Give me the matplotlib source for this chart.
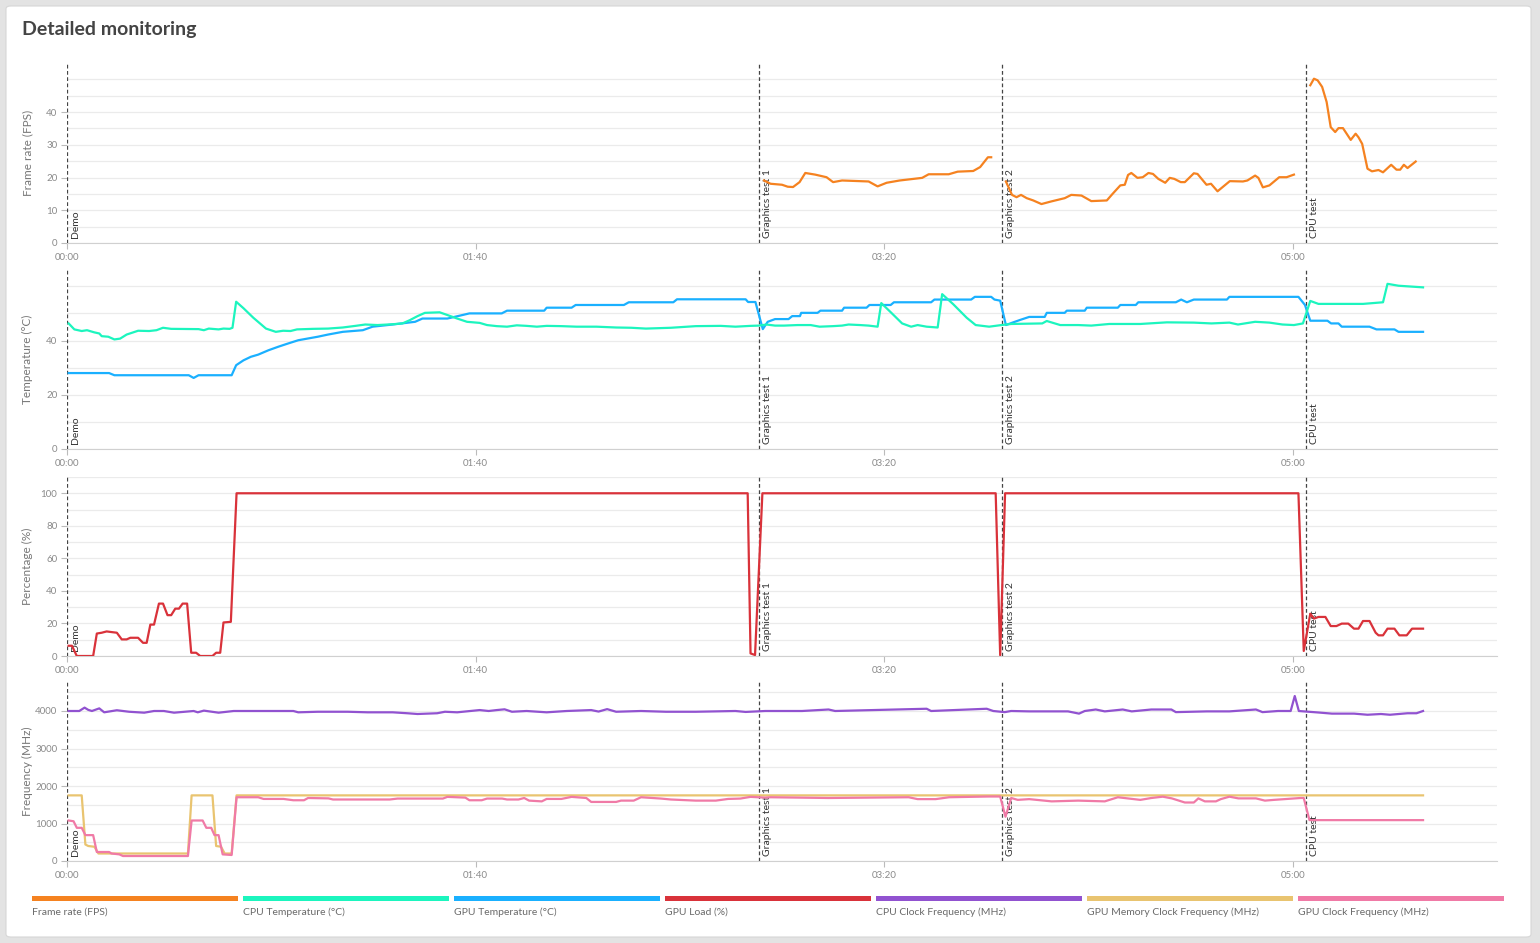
import numpy as np
import matplotlib.pyplot as plt
from matplotlib.patches import FancyBboxPatch, Rectangle

plt.rcParams['font.family'] = ['Lato', 'DejaVu Sans']

# benchmark phases (seconds from start)
event_times = [0, 169.4, 228.9, 303.2]
event_names = ['Demo', 'Graphics test 1', 'Graphics test 2', 'CPU test']

# frame rate, one list of (t, fps) per test run
fps_gt1 = [(170.6, 19.1), (172.2, 18.1), (175.0, 17.8), (176.4, 17.2), (177.7, 17.1), (179.3, 18.6),
           (180.7, 21.4), (183.1, 20.9), (185.9, 20.1), (187.5, 18.6), (189.7, 19.1), (196.2, 18.8),
           (198.4, 17.3), (200.6, 18.4), (203.8, 19.1), (209.3, 19.9), (210.9, 21.0), (215.8, 21.0),
           (218.0, 21.8), (221.8, 22.0), (223.5, 23.2), (225.4, 26.2), (226.2, 26.2)]
fps_gt2 = [(229.8, 18.8), (231.3, 14.7), (232.4, 14.0), (233.5, 14.7), (234.9, 13.7), (236.5, 13.0),
           (238.5, 11.9), (240.9, 12.7), (244.2, 13.7), (245.8, 14.7), (248.3, 14.5), (250.7, 12.8),
           (254.5, 13.0), (255.9, 15.0), (257.8, 17.6), (258.9, 17.8), (259.7, 20.8), (260.5, 21.4),
           (262.0, 19.9), (263.3, 20.1), (264.7, 21.4), (265.8, 21.1), (267.1, 19.6), (268.8, 18.4),
           (269.9, 19.9), (271.0, 19.6), (272.6, 18.6), (273.6, 18.6), (275.8, 21.3), (276.7, 21.1),
           (278.9, 17.8), (280.0, 18.1), (281.6, 15.8), (284.6, 18.9), (287.8, 18.8), (288.9, 19.1),
           (290.8, 20.6), (291.6, 19.9), (292.7, 17.0), (294.3, 17.6), (296.7, 20.1), (298.5, 20.1),
           (300.3, 20.9)]
fps_cpu = [(304.3, 48.2), (305.2, 50.2), (306.1, 49.7), (307.2, 47.7), (308.3, 43.1), (309.3, 35.4),
           (310.4, 33.9), (311.2, 35.1), (312.3, 35.1), (314.2, 31.5), (315.4, 33.4), (316.1, 32.3),
           (317.0, 30.3), (318.3, 22.7), (319.4, 21.9), (321.0, 22.3), (322.1, 21.6), (324.1, 23.9),
           (325.4, 22.4), (326.3, 22.4), (327.2, 23.9), (328.1, 22.9), (330.1, 24.9)]

cpu_temp = [(0.4, 46.3), (1.8, 44.1), (3.6, 43.5), (4.9, 43.8), (6.7, 43.0), (7.9, 42.6), (8.5, 41.6),
            (10.1, 41.4), (11.6, 40.4), (13.0, 40.7), (14.6, 42.2), (15.8, 42.8), (17.4, 43.6),
            (20.1, 43.5), (21.9, 43.8), (23.5, 44.7), (25.5, 44.3), (32.2, 44.2), (33.5, 43.8),
            (34.7, 44.4), (37.1, 44.1), (38.3, 44.4), (39.8, 44.3), (40.5, 44.7), (41.4, 54.3),
            (43.2, 51.9), (45.6, 48.4), (48.7, 44.4), (51.1, 43.2), (52.9, 43.6), (54.7, 43.5),
            (56.3, 44.1), (60.2, 44.3), (63.9, 44.4), (67.5, 44.8), (70.6, 45.4), (73.0, 45.9),
            (76.0, 45.7), (79.7, 46.0), (82.1, 46.3), (83.9, 47.5), (85.8, 49.0), (87.6, 50.2),
            (91.2, 50.4), (93.1, 49.4), (95.5, 48.1), (97.9, 46.9), (101.0, 46.5), (102.8, 45.7),
            (105.2, 45.3), (107.7, 45.1), (110.1, 45.6), (112.5, 45.4), (115.0, 45.1), (117.4, 45.4),
            (121.0, 45.3), (124.7, 45.1), (129.6, 45.1), (134.4, 44.8), (138.1, 44.7), (141.7, 44.4),
            (147.8, 44.7), (153.9, 45.3), (160.0, 45.4), (163.6, 45.1), (167.3, 45.4), (169.4, 45.5),
            (171.2, 45.9), (173.3, 45.5), (175.5, 45.5), (178.8, 45.7), (182.0, 45.7), (184.2, 45.1),
            (187.5, 45.3), (189.7, 45.5), (191.3, 45.9), (194.1, 45.7), (196.2, 45.5), (198.4, 45.1),
            (199.3, 53.8), (201.7, 50.3), (204.4, 46.3), (206.6, 45.1), (208.2, 45.7), (210.4, 45.1),
            (213.1, 44.8), (214.2, 57.1), (216.9, 53.4), (220.2, 48.4), (222.4, 45.7), (225.7, 45.1),
            (228.7, 45.7), (231.1, 46.1), (238.7, 46.3), (239.8, 47.2), (243.1, 45.7), (247.5, 45.7),
            (250.7, 45.5), (255.1, 46.1), (262.7, 46.1), (269.2, 46.7), (275.8, 46.6), (280.1, 46.3),
            (284.5, 46.6), (286.6, 45.9), (290.8, 46.9), (294.3, 46.6), (297.5, 45.9), (300.3, 45.7),
            (302.5, 46.3), (304.3, 54.6), (306.3, 53.5), (317.2, 53.5), (322.1, 54.1), (323.2, 60.9),
            (325.9, 60.2), (331.9, 59.6)]

gpu_temp = [(0.4, 28.0), (10.3, 28.0), (11.6, 27.2), (29.8, 27.2), (31.0, 26.2), (32.2, 27.2),
            (40.3, 27.2), (41.4, 30.9), (43.2, 32.7), (45.0, 34.0), (46.8, 34.8), (49.3, 36.4),
            (51.7, 37.7), (54.1, 38.9), (56.6, 40.1), (61.4, 41.4), (63.9, 42.2), (67.5, 43.2),
            (72.4, 43.8), (74.8, 45.1), (79.7, 45.9), (85.2, 46.9), (87.0, 48.1), (93.1, 48.1),
            (98.5, 50.0), (106.4, 50.0), (107.7, 51.0), (116.8, 51.0), (117.4, 52.1), (123.5, 52.1),
            (124.5, 53.1), (136.3, 53.1), (137.5, 54.1), (148.4, 54.1), (149.3, 55.2), (166.1, 55.2),
            (166.7, 54.2), (168.5, 54.2), (170.3, 44.2), (171.5, 46.9), (173.3, 47.9), (176.6, 47.9),
            (177.5, 49.0), (179.4, 49.0), (179.7, 50.2), (183.7, 50.2), (184.4, 51.0), (189.7, 51.0),
            (190.2, 52.1), (195.7, 52.1), (196.4, 53.1), (201.6, 53.1), (202.4, 54.1), (211.5, 54.1),
            (212.3, 55.1), (221.3, 55.1), (222.2, 56.1), (226.2, 56.1), (227.0, 55.1), (228.4, 54.7),
            (229.8, 45.7), (231.6, 46.7), (233.3, 47.6), (235.5, 48.7), (239.3, 48.7), (239.8, 50.2),
            (244.2, 50.2), (244.7, 51.0), (249.1, 51.0), (249.6, 52.1), (257.2, 52.1), (257.8, 53.1),
            (261.6, 53.1), (262.2, 54.1), (271.4, 54.1), (272.7, 55.1), (274.1, 54.1), (275.8, 55.1),
            (283.9, 55.1), (284.5, 56.1), (301.4, 56.1), (303.0, 53.1), (304.3, 47.3), (308.5, 47.3),
            (309.4, 46.3), (311.2, 46.3), (312.0, 45.1), (318.8, 45.1), (320.5, 44.1), (324.9, 44.1),
            (325.9, 43.2), (331.9, 43.2)]

gpu_load = [(0.4, 6.3), (1.2, 6.3), (2.4, 0), (6.4, 0), (7.3, 13.8), (8.5, 14.3), (9.7, 15.1),
            (10.9, 14.7), (12.2, 14.3), (13.4, 10.2), (14.6, 10.2), (15.5, 11.2), (17.4, 11.2),
            (18.6, 8.1), (19.5, 8.1), (20.4, 19.3), (21.3, 19.3), (22.5, 32.2), (23.5, 32.2),
            (24.6, 25.1), (25.5, 25.1), (26.5, 29.1), (27.4, 29.1), (28.3, 32.2), (29.4, 32.2),
            (30.4, 2.0), (31.6, 2.0), (32.6, 0), (35.6, 0), (36.5, 2.0), (37.5, 2.0), (38.3, 20.6),
            (40.1, 21.0), (41.5, 100), (166.6, 100), (167.3, 1.6), (168.4, 0.6), (170.2, 100),
            (227.3, 100), (228.4, 0.5), (229.6, 100), (301.4, 100), (302.7, 3.1), (304.3, 26.0),
            (305.2, 23.0), (306.3, 24.0), (308.0, 24.0), (309.3, 18.4), (310.7, 18.4), (312.0, 19.9),
            (313.6, 19.9), (315.0, 16.8), (316.1, 16.8), (317.2, 21.5), (318.8, 21.5), (320.3, 14.3),
            (321.0, 12.7), (322.1, 12.7), (323.2, 16.8), (324.9, 16.8), (326.1, 12.7), (327.9, 12.7),
            (329.2, 16.8), (331.9, 16.8)]

cpu_clock = [(0.4, 4000), (3.0, 4000), (4.3, 4090), (5.2, 4030), (6.1, 4000), (7.9, 4070), (9.1, 3965),
             (12.2, 4020), (15.2, 3980), (18.9, 3955), (21.3, 4000), (23.7, 4000), (26.2, 3955),
             (31.0, 4000), (32.0, 3965), (33.5, 4010), (37.1, 3955), (40.8, 4000), (46.8, 4000),
             (55.4, 4000), (56.6, 3965), (61.4, 3980), (68.7, 3980), (73.6, 3965), (79.7, 3965),
             (83.3, 3940), (85.8, 3920), (90.6, 3940), (92.5, 3980), (95.5, 3965), (101.0, 4025),
             (103.2, 4000), (105.2, 4025), (107.1, 4045), (108.9, 3980), (112.5, 4000), (117.4, 3965),
             (122.3, 4000), (128.3, 4025), (130.1, 3985), (132.2, 4050), (134.4, 3980), (140.5, 4000),
             (146.6, 3980), (153.9, 3980), (163.6, 4000), (166.1, 3975), (170.9, 4000), (179.9, 4000),
             (186.4, 4040), (188.0, 4000), (210.4, 4060), (211.5, 4000), (225.1, 4060), (226.7, 4000),
             (229.5, 3970), (231.1, 4000), (235.5, 3990), (245.0, 3990), (247.7, 3930), (249.1, 4000),
             (251.8, 4040), (254.0, 3990), (258.4, 4040), (260.6, 3990), (265.4, 4040), (270.3, 4040),
             (271.4, 3970), (279.0, 3990), (284.5, 3990), (291.0, 4040), (292.6, 3970), (296.4, 4000),
             (299.5, 4000), (300.5, 4400), (301.5, 4000), (306.3, 3960), (309.6, 3930), (315.0, 3930),
             (318.3, 3900), (321.6, 3920), (323.8, 3900), (328.1, 3940), (330.3, 3940), (331.9, 4000)]

gpu_mem_clock = [(0.4, 1750), (3.6, 1750), (4.5, 440), (5.2, 400), (6.7, 380), (7.7, 200), (29.6, 200),
                 (30.5, 1750), (35.6, 1750), (36.5, 400), (37.7, 380), (38.6, 200), (40.3, 200),
                 (41.5, 1750), (331.9, 1750)]

gpu_clock = [(0.4, 1080), (1.6, 1060), (2.4, 885), (3.6, 885), (4.5, 690), (6.4, 690), (7.3, 240),
             (10.3, 240), (10.9, 200), (12.8, 177), (13.7, 133), (29.6, 133), (30.5, 1080), (33.2, 1080),
             (34.1, 885), (35.3, 885), (36.1, 690), (37.1, 690), (38.1, 177), (40.3, 160), (41.5, 1700),
             (46.8, 1700), (48.1, 1655), (53.0, 1655), (55.4, 1620), (58.0, 1620), (59.0, 1680),
             (64.0, 1670), (65.1, 1640), (79.0, 1640), (80.9, 1665), (92.0, 1665), (93.1, 1710),
             (97.5, 1690), (98.5, 1620), (101.5, 1620), (102.8, 1665), (106.5, 1665), (107.7, 1640),
             (110.5, 1640), (111.9, 1680), (113.1, 1610), (116.2, 1590), (117.4, 1655), (121.0, 1655),
             (123.5, 1710), (127.1, 1680), (128.3, 1575), (134.4, 1575), (135.6, 1610), (138.7, 1610),
             (140.5, 1700), (145.4, 1665), (147.8, 1640), (153.9, 1610), (158.8, 1610), (161.8, 1655),
             (164.8, 1665), (167.3, 1710), (170.9, 1690), (172.2, 1700), (186.4, 1680), (206.0, 1700),
             (208.2, 1650), (212.6, 1650), (215.9, 1700), (225.6, 1720), (228.4, 1720), (229.7, 1180),
             (231.1, 1680), (232.7, 1630), (235.5, 1650), (241.0, 1590), (247.5, 1610), (254.0, 1590),
             (257.2, 1700), (262.7, 1630), (265.4, 1680), (268.2, 1715), (270.4, 1670), (273.6, 1560),
             (275.8, 1560), (276.9, 1670), (278.5, 1590), (281.2, 1590), (282.4, 1650), (284.5, 1715),
             (286.7, 1670), (291.0, 1670), (293.2, 1610), (295.4, 1630), (301.9, 1680), (302.7, 1680),
             (304.1, 1090), (331.9, 1090)]

# series name, colour
series = [('Frame rate (FPS)', '#f58220'),
          ('CPU Temperature (°C)', '#1cf5be'),
          ('GPU Temperature (°C)', '#1ab0ff'),
          ('GPU Load (%)', '#d9323a'),
          ('CPU Clock Frequency (MHz)', '#9152d0'),
          ('GPU Memory Clock Frequency (MHz)', '#e9c470'),
          ('GPU Clock Frequency (MHz)', '#f07aa6')]
col = dict(series)


def xy(pts):
    a = np.array(pts, dtype=float)
    return a[:, 0], a[:, 1]


def mmss(s, _):
    s = int(round(s))
    return f'{s // 60:02d}:{s % 60:02d}'


fig = plt.figure(figsize=(15.4, 9.43), dpi=100, facecolor='#e3e3e3')
card = FancyBboxPatch((6 / 1540, 6 / 943), 1525 / 1540, 931 / 943, boxstyle='round,pad=0,rounding_size=0.003',
                      transform=fig.transFigure, facecolor='white', edgecolor='#d6d6d6', lw=0.8, zorder=-10)
fig.patches.append(card)
fig.text(22 / 1540, 1 - 29 / 943, 'Detailed monitoring', fontsize=14, fontweight='bold', color='#444444',
         va='center', ha='left')

# panels: ylabel, ylim, labelled ticks, grid lines, pixel top/bottom
panels = [('Frame rate (FPS)', 55, [0, 10, 20, 30, 40], np.arange(5, 51, 5), 63, 243),
          ('Temperature (°C)', 66, [0, 20, 40], np.arange(10, 61, 10), 270, 449),
          ('Percentage (%)', 110, [0, 20, 40, 60, 80, 100], np.arange(10, 111, 10), 477, 656),
          ('Frequency (MHz)', 4800, [0, 1000, 2000, 3000, 4000], np.arange(500, 4501, 500), 681, 861)]

axes = []
for label, top, ticks, grid, ytop, ybot in panels:
    ax = fig.add_axes([67 / 1540, 1 - ybot / 943, (1497 - 67) / 1540, (ybot - ytop) / 943])
    ax.set_xlim(0, 350)
    ax.set_ylim(0, top)
    ax.set_yticks(ticks)
    ax.set_yticks(grid, minor=True)
    ax.grid(which='both', axis='y', color='#ebebeb', lw=0.9, zorder=0)
    ax.set_xticks([0, 100, 200, 300])
    ax.xaxis.set_major_formatter(mmss)
    for s in ['top', 'right', 'left']:
        ax.spines[s].set_visible(False)
    ax.spines['bottom'].set_color('#d0d0d0')
    ax.tick_params(which='major', length=4, width=0.8, color='#bbbbbb', labelsize=7, labelcolor='#8a8a8a', pad=3)
    ax.tick_params(which='minor', length=0)
    ax.set_ylabel(label, fontsize=8.5, color='#777777')
    ax.yaxis.set_label_coords(-0.0235, 0.5)
    for t, name in zip(event_times, event_names):
        ax.axvline(t, color='#444444', lw=0.9, ls=(0, (3, 2)), zorder=3)
        ax.text(t + 1.0, 0.03 * top, name, rotation=90, fontsize=7.5, color='#333333',
                ha='left', va='bottom', zorder=4)
    axes.append(ax)

lw = 1.6
for seg in [fps_gt1, fps_gt2, fps_cpu]:
    axes[0].plot(*xy(seg), color=col['Frame rate (FPS)'], lw=lw, zorder=5)
axes[1].plot(*xy(gpu_temp), color=col['GPU Temperature (°C)'], lw=lw, zorder=5)
axes[1].plot(*xy(cpu_temp), color=col['CPU Temperature (°C)'], lw=lw, zorder=6)
axes[2].plot(*xy(gpu_load), color=col['GPU Load (%)'], lw=lw, zorder=5)
axes[3].plot(*xy(cpu_clock), color=col['CPU Clock Frequency (MHz)'], lw=lw, zorder=5)
axes[3].plot(*xy(gpu_mem_clock), color=col['GPU Memory Clock Frequency (MHz)'], lw=lw, zorder=5)
axes[3].plot(*xy(gpu_clock), color=col['GPU Clock Frequency (MHz)'], lw=lw, zorder=6)

# legend strip along the bottom
for i, (name, c) in enumerate(series):
    x0 = (32 + i * 211) / 1540
    fig.patches.append(Rectangle((x0, 1 - 901 / 943), 206 / 1540, 5 / 943, transform=fig.transFigure,
                                 facecolor=c, edgecolor='none'))
    fig.text(x0, 1 - 912 / 943, name, fontsize=7.5, color='#6a6a6a', ha='left', va='center')

fig.savefig('out.png', dpi=100, facecolor=fig.get_facecolor())
